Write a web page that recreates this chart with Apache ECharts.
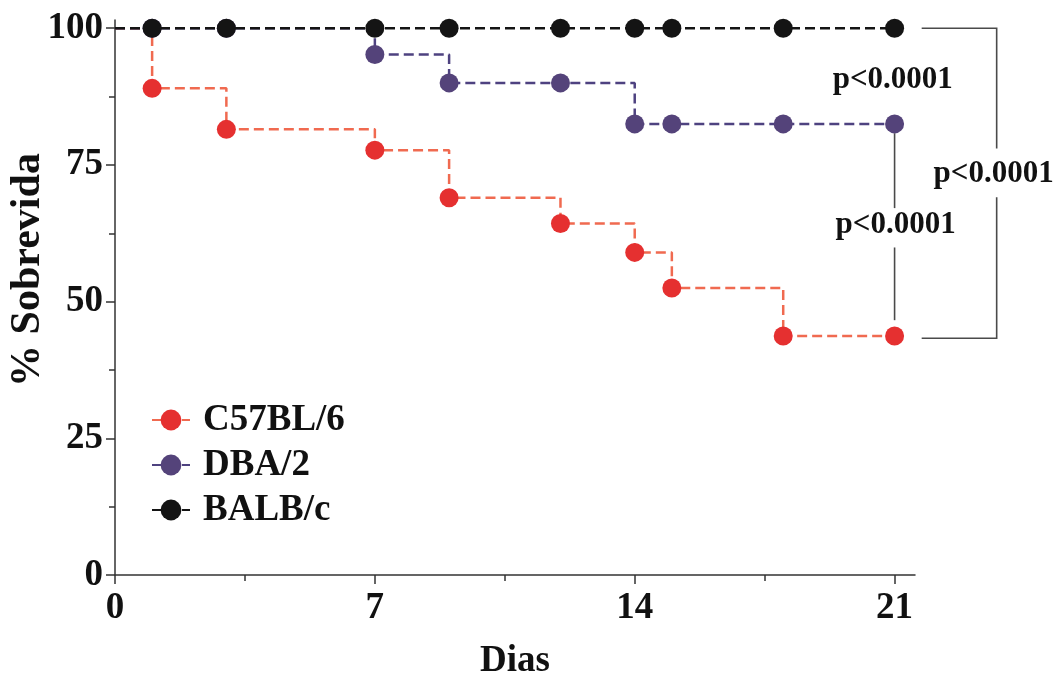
<!DOCTYPE html>
<html><head><meta charset="utf-8">
<script src="https://cdn.jsdelivr.net/npm/echarts@6/dist/echarts.min.js"></script>
<style>html,body{margin:0;padding:0;background:#fff}#c{width:1062px;height:673px}</style>
</head><body><div id="c"></div>
<script>
// ---- data ----
const seriesNames = ['C57BL/6', 'DBA/2', 'BALB/c'];
const days = [0, 1, 3, 7, 9, 12, 14, 15, 18, 21];
const c57 = [100, 89, 81.5, 77.7, 69, 64.3, 59, 52.5, 43.7, 43.7];
const dba = [100, 100, 100, 95.2, 90, 90, 82.5, 82.5, 82.5, 82.5];
const balb = [100, 100, 100, 100, 100, 100, 100, 100, 100, 100];
const xTicks = [0, 7, 14, 21];
const xMinor = [3.5, 10.5, 17.5];
const yTicks = [0, 25, 50, 75, 100];
const yMinor = [12.5, 37.5, 62.5, 87.5];
const pText = 'p<0.0001';
// annotation geometry (data coordinates)
const bracketSegments = [
  [[21.73, 100], [23.75, 100], [23.75, 78]],
  [[23.75, 69.1], [23.75, 43.3], [21.73, 43.3]],
  [[21, 80.8], [21, 67.1]],
  [[21, 59.9], [21, 46.6]]
];
const pPositions = [[20.95, 90.5], [23.67, 73.4], [21.03, 64.0]];

// ---- style ----
const FONT = '"Liberation Serif", "Times New Roman", serif';
const colors = {
  marker: ['#E53030', '#54437A', '#141414'],
  line: ['#F06A50', '#4E4280', '#141414']
};

function buildData(vals) {
  return days.map((d, i) => ({ value: [d, vals[i]], symbolSize: i === 0 ? 0 : 19 }));
}
const allVals = [c57, dba, balb];

const chart = echarts.init(document.getElementById('c'), null, { renderer: 'canvas' });

const lineSeries = seriesNames.map((name, k) => ({
  name,
  type: 'line',
  step: 'end',
  data: buildData(allVals[k]),
  symbol: 'circle',
  symbolSize: 19,
  itemStyle: { color: colors.marker[k] },
  lineStyle: { color: colors.line[k], width: 2.5, type: [10, 5] },
  z: 2 + k,
  animation: false
}));

const annotation = {
  type: 'custom',
  xAxisIndex: 0,
  yAxisIndex: 0,
  clip: false,
  silent: true,
  animation: false,
  data: [[0]],
  renderItem(params, api) {
    const children = bracketSegments.map(seg => ({
      type: 'polyline',
      shape: { points: seg.map(p => api.coord(p)) },
      style: { stroke: '#4a4a4a', lineWidth: 1.6, fill: null }
    }));
    pPositions.forEach(p => {
      const c = api.coord(p);
      children.push({
        type: 'text', x: c[0], y: c[1],
        style: { text: pText, font: 'bold 31px ' + FONT, fill: '#111', align: 'center', verticalAlign: 'middle' }
      });
    });
    return { type: 'group', children };
  }
};

const axisLineStyle = { color: '#333', width: 1.5 };
const labelStyle = { fontSize: 37, fontWeight: 'bold', fontFamily: FONT, color: '#111' };

chart.setOption({
  backgroundColor: '#fff',
  animation: false,
  grid: { left: 115, right: 147, top: 20, bottom: 98, containLabel: false, outerBoundsMode: 'none' },
  legend: {
    data: seriesNames,
    orient: 'vertical',
    left: 146,
    top: 396,
    itemGap: 7,
    itemWidth: 38,
    itemHeight: 26,
    textStyle: { fontSize: 37, fontWeight: 'bold', fontFamily: FONT, color: '#111', lineHeight: 38, padding: [0, 0, 0, 8] }
  },
  xAxis: [
    {
      type: 'value', min: 0, max: 21.55,
      axisLine: { show: true, onZero: false, lineStyle: axisLineStyle },
      axisTick: { show: true, customValues: xTicks, length: 9, lineStyle: axisLineStyle },
      axisLabel: Object.assign({ customValues: xTicks, margin: 15 }, labelStyle),
      splitLine: { show: false },
      name: 'Dias', nameLocation: 'middle', nameGap: 68,
      nameTextStyle: { fontSize: 37, fontWeight: 'bold', fontFamily: FONT, color: '#111' }
    },
    {
      type: 'value', min: 0, max: 21.55, position: 'bottom',
      axisLine: { show: false },
      axisTick: { show: true, customValues: xMinor, length: 6, lineStyle: axisLineStyle },
      axisLabel: { show: false },
      splitLine: { show: false }
    }
  ],
  yAxis: [
    {
      type: 'value', min: 0, max: 101.5,
      axisLine: { show: true, onZero: false, lineStyle: axisLineStyle },
      axisTick: { show: true, customValues: yTicks, length: 9, lineStyle: axisLineStyle },
      axisLabel: Object.assign({ customValues: yTicks, margin: 12 }, labelStyle),
      splitLine: { show: false }
    },
    {
      type: 'value', min: 0, max: 101.5, position: 'left',
      axisLine: { show: false },
      axisTick: { show: true, customValues: yMinor, length: 6, lineStyle: axisLineStyle },
      axisLabel: { show: false },
      splitLine: { show: false }
    }
  ],
  graphic: [
    {
      type: 'text', x: 28, y: 270, rotation: Math.PI / 2,
      style: { text: '% Sobrevida', font: 'bold 42px ' + FONT, fill: '#111', align: 'center', verticalAlign: 'middle' }
    }
  ],
  series: lineSeries.concat([annotation])
});
</script>
</body></html>
